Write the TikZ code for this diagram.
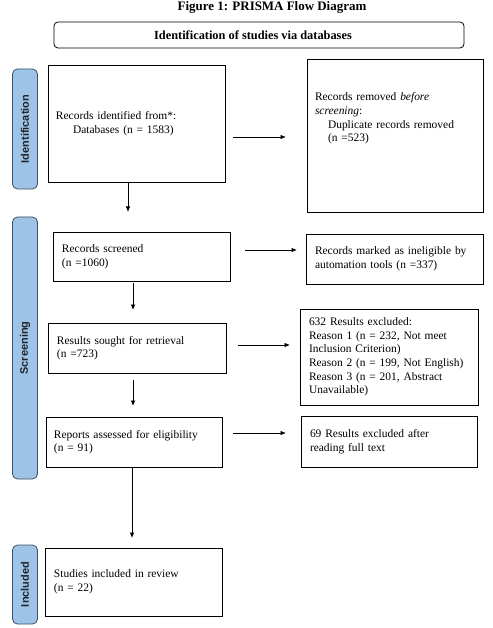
\documentclass[tikz,border=0pt]{standalone}
\usepackage{fontspec}
\setmainfont{Liberation Serif}
\newfontfamily\sidefont{Liberation Sans}
\usetikzlibrary{arrows.meta}
\definecolor{sidefill}{RGB}{157,195,230}
\definecolor{sidedraw}{RGB}{60,80,105}
\definecolor{sidetextcol}{RGB}{35,35,40}
\newcommand{\bodyfs}{\fontsize{11.5}{13.6}\selectfont}
\begin{document}
\begin{tikzpicture}[x=1bp,y=-1bp,
  box/.style={draw, line width=0.8bp, rectangle, inner sep=0pt, outer sep=0pt, font=\bodyfs, align=left},
  txt/.style={inner sep=0pt, outer sep=0pt, font=\bodyfs, align=left},
  side/.style={draw=sidedraw, fill=sidefill, rounded corners=5bp, line width=0.8bp, inner sep=0pt, outer sep=0pt, rotate=90, minimum height=25bp, font=\sidefont\bfseries\fontsize{11}{13}\selectfont, text=sidetextcol},
  arr/.style={-{Latex[length=5.5bp,width=4.5bp]}, line width=0.8bp}]
\useasboundingbox[fill=white] (0,0) rectangle (493,628);

% title and header
\node[font=\bfseries\fontsize{13}{15}\selectfont, inner sep=0pt] (T) at (272,7.5) {Figure 1: PRISMA Flow Diagram};
\node[draw, rounded corners=4bp, line width=0.8bp, minimum width=410bp, minimum height=26bp, inner sep=0pt] (H) at (259,35) {};
\node[font=\bfseries\fontsize{12.4}{14}\selectfont, inner sep=0pt] (Ht) at (253,35) {Identification of studies via databases};

% side bars
\node[side, minimum width=120bp] (S1) at (25,129) {Identification};
\node[side, minimum width=262bp] (S2) at (25,348) {Screening};
\node[side, minimum width=79bp] (S3) at (25,584.5) {Included};

% left column
\node[box, minimum width=177bp, minimum height=117bp, text width=161bp] (B1) at (136.5,123.5)
  {Records identified from*:\\\hspace*{17bp}Databases (n = 1583)};
\node[box, minimum width=177bp, minimum height=49bp, text width=159bp] (B2) at (141.5,256.5)
  {Records screened\\(n =1060)};
\node[box, minimum width=178bp, minimum height=50bp, text width=160bp] (B3) at (137,348)
  {Results sought for retrieval\\(n =723)};
\node[box, minimum width=176bp, minimum height=50bp, text width=160bp] (B4) at (134,442)
  {Reports assessed for eligibility\\(n = 91)};
\node[box, minimum width=177bp, minimum height=68bp, text width=159bp] (B5) at (133.5,582)
  {Studies included in review\\(n = 22)};

% right column
\node[box, minimum width=176bp, minimum height=153bp] (R1) at (395,135.5) {};
\node[txt, text width=159bp] (R1t) at (394.5,118.5)
  {Records removed \textit{before}\\\textit{screening}:\\\hspace*{13bp}Duplicate records removed\\\hspace*{13bp}(n =523)};
\node[box, minimum width=177bp, minimum height=50bp, text width=159bp] (R2) at (394.5,259)
  {Records marked as ineligible by\\automation tools (n =337)};
\node[box, minimum width=178bp, minimum height=96bp, text width=160bp] (R3) at (389,357)
  {632 Results excluded:\\Reason 1 (n = 232, Not meet\\Inclusion Criterion)\\Reason 2 (n = 199, Not English)\\Reason 3 (n = 201, Abstract\\Unavailable)};
\node[box, minimum width=176bp, minimum height=51bp, text width=158bp] (R4) at (389,441.5)
  {69 Results excluded after\\reading full text};

% horizontal arrows
\draw[arr, shorten <=8bp, shorten >=21bp] ([yshift=-13.5bp]B1.east) -- ([yshift=-13.5bp]B1.east -| R1.west);
\draw[arr, shorten <=15bp, shorten >=9bp] ([yshift=6.5bp]B2.east) -- ([yshift=6.5bp]B2.east -| R2.west);
\draw[arr, shorten <=12bp, shorten >=10bp] ([yshift=3bp]B3.east) -- ([yshift=3bp]B3.east -| R3.west);
\draw[arr, shorten <=11bp, shorten >=15bp] ([yshift=9bp]B4.east) -- ([yshift=9bp]B4.east -| R4.west);

% vertical arrows
\draw[arr, shorten >=20bp] ([xshift=-8.5bp]B1.south) -- ([xshift=-8.5bp]B1.south |- B2.north);
\draw[arr, shorten <=2bp, shorten >=13bp] ([xshift=-8.5bp]B2.south) -- ([xshift=-8.5bp]B2.south |- B3.north);
\draw[arr, shorten <=7bp, shorten >=11bp] ([xshift=-4bp]B3.south) -- ([xshift=-4bp]B3.south |- B4.north);
\draw[arr, shorten >=10bp] ([xshift=-2bp]B4.south) -- ([xshift=-2bp]B4.south |- B5.north);
\end{tikzpicture}
\end{document}
